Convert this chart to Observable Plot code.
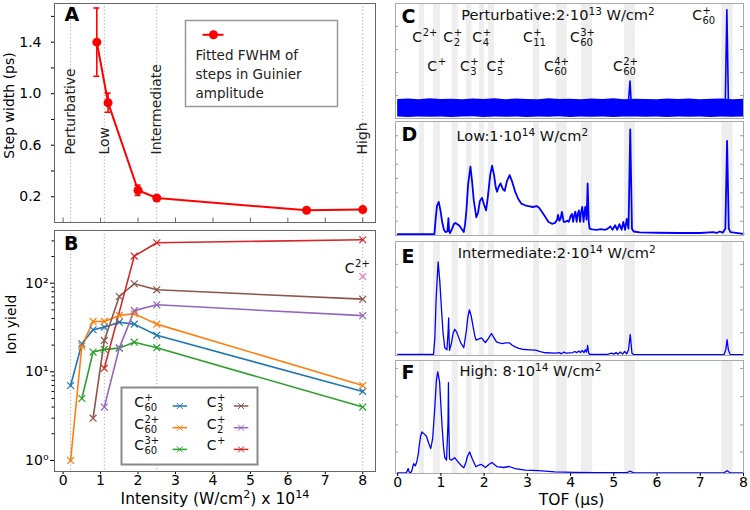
<!DOCTYPE html>
<html>
<head>
<meta charset="utf-8">
<script src="https://cdn.jsdelivr.net/npm/d3@7"></script>
<script src="https://cdn.jsdelivr.net/npm/@observablehq/plot@0.6"></script>
<style>
  html, body { margin: 0; padding: 0; background: #fff; }
  #fig { position: relative; width: 750px; height: 510px; overflow: hidden; font-family: "DejaVu Sans", sans-serif; }
  #fig svg { position: absolute; overflow: visible; }
</style>
</head>
<body>
<div id="fig"></div>
<script>
// ---------------- data ----------------
// A: fitted FWHM of the steps in the Guinier amplitude (ps) vs intensity (x 1e14 W/cm²)
const stepIntensity = [0.9, 1.2, 2.0, 2.5, 6.5, 8.0];
const stepWidth     = [1.40, 0.93, 0.25, 0.19, 0.095, 0.10];
const stepError     = [0.265, 0.074, 0.04, 0, 0, 0];
const stepTicks      = [0.2, 0.4, 0.6, 0.8, 1.0, 1.2, 1.4, 1.6];
const stepTickLabels = ["0.2", "", "0.6", "", "1.0", "", "1.4", ""];
const stepLegendText = "Fitted FWHM of\nsteps in Guinier\namplitude";

// intensity regimes marked in A and B
const regimeIntensity = [0.2, 1.1, 2.5, 8.0];
const regimeNames = ["Perturbative", "Low", "Intermediate", "High"];
const intensityTicks = [0, 1, 2, 3, 4, 5, 6, 7, 8];

// B: ion yields vs intensity
const yieldIntensity = [0.2, 0.5, 0.8, 1.1, 1.5, 1.9, 2.5, 8.0];
const yieldC60p  = [7.0, 20.7, 29.8, 31.9, 36.3, 34.5, 25.8, 6.0];
const yieldC602p = [1.0, 19.5, 37, 37, 43.3, 45.2, 34.5, 7.0];
const yieldC603p = [null, 5.0, 16.7, 17.9, 18.5, 21.6, 18.7, 4.0];
const yieldC3p   = [null, null, 3.0, 22.6, 70.8, 98.5, 84.2, 66];
const yieldC2p   = [null, null, null, 4.0, 18.6, 49, 57, 43];
const yieldCp    = [null, null, null, 11, null, 202, 286, 309];
const c2plusIntensity = [8.0];
const c2plusYield = [119];

const ionSeries = ["C60+", "C60 2+", "C60 3+", "C3+", "C2+", "C+"];
const ionSup    = ["+", "2+", "3+", "+", "+", "+"];
const ionSub    = ["60", "60", "60", "3", "2", ""];
const ionColors = ["#1f77b4", "#ff7f0e", "#2ca02c", "#8c564b", "#9467bd", "#d62728"];
const ionYields = [yieldC60p, yieldC602p, yieldC603p, yieldC3p, yieldC2p, yieldCp];

const yieldTicks = [1, 10, 100];
const yieldTickLabels = ["10⁰", "10¹", "10²"];
const yieldMinorTicks = [2, 3, 4, 5, 6, 7, 8, 9, 20, 30, 40, 50, 60, 70, 80, 90, 200, 300];

// C–F: time-of-flight spectra (normalised signal), TOF in µs
const tofTicks = [0, 1, 2, 3, 4, 5, 6, 7, 8];
const bandStart = [0.50, 0.83, 1.26, 1.59, 1.89, 2.10, 3.14, 3.67, 4.25, 5.25, 7.50];
const bandEnd   = [0.62, 0.99, 1.40, 1.72, 2.01, 2.24, 3.28, 3.92, 4.51, 5.50, 7.76];

// peak labels in C
const peakSup = ["2+", "+", "+", "+", "3+", "+", "+", "+", "4+", "2+", "+"];
const peakSub = ["", "2", "4", "11", "60", "", "3", "5", "60", "60", "60"];
const peakTof = [0.566, 1.283, 1.954, 3.124, 4.21, 0.913, 1.667, 2.284, 3.61, 5.205, 7.04];
const peakRow = [1, 1, 1, 1, 1, 2, 2, 2, 2, 2, 0];
const rowLevel = [0.898, 0.70, 0.452];

// C: perturbative regime, noise envelope plus two C60 peaks
const noiseTof  = [0,0.25,0.5,0.75,1,1.25,1.5,1.75,2,2.25,2.5,2.75,3,3.25,3.5,3.75,4,4.25,4.5,4.75,5,5.25,5.5,5.75,6,6.25,6.5,6.75,7,7.25,7.5,7.75,8];
const noiseHigh = [0.166,0.169,0.163,0.171,0.165,0.168,0.162,0.17,0.166,0.172,0.164,0.169,0.166,0.163,0.171,0.165,0.168,0.163,0.17,0.166,0.172,0.164,0.168,0.165,0.162,0.17,0.166,0.169,0.164,0.167,0.17,0.163,0.168];
const noiseLow  = [0.012,0.009,0.014,0.01,0.013,0.008,0.012,0.015,0.009,0.013,0.01,0.014,0.009,0.012,0.011,0.015,0.009,0.013,0.01,0.014,0.009,0.012,0.014,0.01,0.012,0.009,0.013,0.01,0.013,0.009,0.014,0.011,0.012];
const specCPeaks = [
  [[5.34, 0.15], [5.375, 0.325], [5.40, 0.15]],
  [[7.58, 0.16], [7.615, 0.945], [7.65, 0.16]]
];

// D: low intensity
const specD = [
  [0.00,0.012],[0.85,0.012],[0.88,0.15],[0.91,0.26],[0.95,0.295],[0.99,0.22],[1.03,0.118],[1.07,0.05],
  [1.105,0.03],[1.15,0.035],[1.175,0.153],[1.19,0.04],[1.21,0.02],[1.26,0.06],[1.30,0.10],[1.336,0.11],
  [1.40,0.095],[1.45,0.075],[1.53,0.03],[1.56,0.10],[1.59,0.22],[1.63,0.45],[1.683,0.605],[1.72,0.48],
  [1.76,0.31],[1.82,0.16],[1.86,0.20],[1.90,0.30],[1.95,0.33],[2.00,0.27],[2.046,0.22],[2.09,0.35],
  [2.14,0.53],[2.185,0.613],[2.23,0.53],[2.27,0.42],[2.30,0.383],[2.34,0.43],[2.38,0.457],[2.43,0.41],
  [2.477,0.392],[2.53,0.48],[2.59,0.53],[2.65,0.47],[2.72,0.383],[2.79,0.32],[2.86,0.28],[2.95,0.265],
  [3.03,0.257],[3.12,0.25],[3.225,0.257],[3.28,0.24],[3.34,0.206],[3.42,0.16],[3.49,0.118],[3.57,0.103],
  [3.64,0.11],[3.69,0.14],[3.71,0.18],[3.74,0.13],[3.77,0.15],[3.80,0.206],[3.84,0.12],[3.88,0.12],
  [3.92,0.13],[3.96,0.12],[4.00,0.17],[4.03,0.19],[4.06,0.12],[4.08,0.17],[4.11,0.21],[4.14,0.12],
  [4.16,0.18],[4.19,0.22],[4.22,0.12],[4.24,0.20],[4.27,0.25],[4.30,0.12],[4.32,0.20],[4.34,0.25],
  [4.37,0.14],[4.395,0.457],[4.42,0.12],[4.44,0.06],[4.50,0.053],[4.60,0.05],[4.70,0.055],[4.80,0.05],
  [4.86,0.06],[4.92,0.08],[4.97,0.05],[5.03,0.09],[5.08,0.05],[5.13,0.10],[5.18,0.05],[5.22,0.12],
  [5.26,0.05],[5.30,0.145],[5.34,0.06],[5.38,0.93],[5.42,0.06],[5.46,0.035],[5.60,0.028],[6.00,0.024],
  [6.50,0.022],[7.00,0.022],[7.30,0.03],[7.38,0.022],[7.45,0.035],[7.52,0.025],[7.58,0.06],[7.62,0.83],
  [7.66,0.06],[7.70,0.03],[8.00,0.015]
];

// E: intermediate intensity
const specE = [
  [0,0.01],[0.83,0.01],[0.86,0.15],[0.89,0.5],[0.936,0.82],[0.975,0.65],[1.013,0.41],[1.05,0.2],
  [1.09,0.068],[1.14,0.05],[1.165,0.2],[1.18,0.33],[1.19,0.15],[1.20,0.045],[1.245,0.11],[1.28,0.19],
  [1.32,0.23],[1.36,0.21],[1.40,0.17],[1.46,0.11],[1.53,0.068],[1.59,0.22],[1.625,0.34],[1.66,0.40],
  [1.70,0.35],[1.737,0.27],[1.78,0.18],[1.815,0.135],[1.88,0.145],[1.94,0.155],[1.99,0.13],[2.03,0.114],
  [2.10,0.15],[2.17,0.193],[2.23,0.155],[2.285,0.12],[2.35,0.11],[2.42,0.105],[2.50,0.11],[2.59,0.11],
  [2.65,0.09],[2.72,0.076],[2.80,0.063],[2.88,0.055],[3.05,0.05],[3.19,0.047],[3.30,0.035],[3.42,0.024],
  [3.65,0.02],[3.75,0.025],[3.78,0.015],[3.85,0.03],[3.90,0.02],[4.05,0.025],[4.10,0.035],[4.14,0.025],
  [4.19,0.04],[4.23,0.025],[4.27,0.045],[4.31,0.025],[4.34,0.05],[4.37,0.03],[4.395,0.088],[4.42,0.02],
  [4.45,0.009],[4.85,0.01],[4.95,0.02],[5.00,0.012],[5.05,0.025],[5.10,0.012],[5.15,0.03],[5.20,0.012],
  [5.25,0.035],[5.30,0.015],[5.34,0.05],[5.38,0.184],[5.42,0.02],[5.46,0.008],[7.55,0.008],[7.59,0.05],
  [7.62,0.138],[7.65,0.05],[7.69,0.01],[8,0.008]
];

// F: high intensity
const specF = [
  [0,0.005],[0.20,0.007],[0.23,0.03],[0.243,0.044],[0.26,0.02],[0.28,0.008],[0.32,0.015],[0.35,0.06],
  [0.37,0.088],[0.39,0.075],[0.41,0.068],[0.43,0.09],[0.45,0.118],[0.48,0.18],[0.50,0.25],[0.53,0.33],
  [0.56,0.368],[0.60,0.355],[0.666,0.33],[0.72,0.265],[0.765,0.22],[0.81,0.31],[0.858,0.575],[0.895,0.82],
  [0.927,0.90],[0.97,0.81],[1.00,0.60],[1.03,0.40],[1.06,0.24],[1.09,0.14],[1.13,0.118],[1.165,0.45],
  [1.175,0.805],[1.185,0.40],[1.20,0.13],[1.24,0.118],[1.32,0.14],[1.41,0.097],[1.47,0.07],[1.53,0.05],
  [1.58,0.10],[1.61,0.148],[1.665,0.19],[1.73,0.127],[1.81,0.06],[1.88,0.075],[1.94,0.08],[2.03,0.053],
  [2.11,0.08],[2.18,0.097],[2.30,0.06],[2.45,0.053],[2.58,0.062],[2.72,0.044],[2.95,0.03],[3.26,0.026],
  [3.64,0.015],[4.10,0.01],[4.60,0.008],[5.30,0.008],[5.38,0.02],[5.45,0.008],[7.55,0.006],[7.62,0.025],
  [7.69,0.006],[8,0.005]
];

// ^{...} marks a superscript
const panelTitles = ["Perturbative:2·10^{13} W/cm^{2}", "Low:1·10^{14} W/cm^{2}", "Intermediate:2·10^{14} W/cm^{2}", "High: 8·10^{14} W/cm^{2}"];
const intensityLabel = "Intensity (W/cm^{2}) x 10^{14}";

// ---------------- drawing ----------------
const fig = document.getElementById("fig");
const SVGNS = "http://www.w3.org/2000/svg";
const baseStyle = {fontFamily: "'DejaVu Sans', sans-serif", fontSize: "14px", background: "transparent", overflow: "visible", color: "#000"};

// turn ^{...} runs inside rendered text into raised, smaller tspans
function raiseSuperscripts(svg) {
  svg.querySelectorAll("text").forEach(t => {
    const s = t.textContent;
    if (!s.includes("^{")) return;
    let el = t, fs = NaN;
    while (el && isNaN(fs)) { fs = parseFloat(el.getAttribute && el.getAttribute("font-size")); el = el.parentElement; }
    if (isNaN(fs)) fs = 14;
    const shift = fs * 0.38;
    const parts = s.split(/(\^\{[^}]*\})/).filter(p => p.length);
    t.textContent = "";
    let raised = false;
    for (const p of parts) {
      const ts = document.createElementNS(SVGNS, "tspan");
      if (p.startsWith("^{")) {
        ts.textContent = p.slice(2, -1);
        ts.setAttribute("font-size", (fs * 0.72).toFixed(1));
        ts.setAttribute("dy", (-shift).toFixed(1));
        raised = true;
      } else {
        ts.textContent = p;
        if (raised) { ts.setAttribute("dy", shift.toFixed(1)); raised = false; }
      }
      t.appendChild(ts);
    }
  });
}

function place(svg, left, top) {
  svg.style.left = left + "px";
  svg.style.top = top + "px";
  fig.appendChild(svg);
  raiseSuperscripts(svg);
}

// "C" with a stacked charge superscript and size subscript
function ionLabel(data, {x, y, size = 14, small = 10}) {
  return [
    Plot.text(data, {x, y, text: () => "C", textAnchor: "end", lineAnchor: "middle", fontSize: size, fill: "#111"}),
    Plot.text(data, {x, y, text: "sup", textAnchor: "start", lineAnchor: "middle", fontSize: small, dx: 0.5, dy: -4.8, fill: "#111"}),
    Plot.text(data, {x, y, text: "sub", textAnchor: "start", lineAnchor: "middle", fontSize: small, dx: 0.5, dy: 5.2, fill: "#111"})
  ];
}

const intensityDomain = [-0.23, 8.34];
const dotted = {stroke: "#aaaaaa", strokeDasharray: "1.2,2.2", strokeWidth: 1};
const pixelScale = {type: "identity", axis: null};

// ----- A -----
const stepRows = stepIntensity.map((x, i) => ({x, y: stepWidth[i], e: stepError[i]}));
const errRows = stepRows.filter(d => d.e > 0);
const capHalf = 0.08;
place(Plot.plot({
  width: 380, height: 225, marginLeft: 54, marginRight: 5, marginTop: 3, marginBottom: 3,
  style: baseStyle,
  x: {domain: intensityDomain, axis: null},
  y: {domain: [0, 1.7]},
  marks: [
    Plot.ruleX(regimeIntensity, dotted),
    Plot.text(regimeNames, {x: (d, i) => regimeIntensity[i], frameAnchor: "bottom", dy: -68, rotate: -90,
      textAnchor: "start", lineAnchor: "middle", fontSize: 14, fill: "#222"}),
    Plot.ruleX(intensityTicks, {y1: 0, y2: 0.035, stroke: "#666"}),
    Plot.ruleX(errRows, {x: "x", y1: d => d.y - d.e, y2: d => d.y + d.e, stroke: "red", strokeWidth: 1.6}),
    Plot.ruleY(errRows, {y: d => d.y + d.e, x1: d => d.x - capHalf, x2: d => d.x + capHalf, stroke: "red", strokeWidth: 1.6}),
    Plot.ruleY(errRows, {y: d => d.y - d.e, x1: d => d.x - capHalf, x2: d => d.x + capHalf, stroke: "red", strokeWidth: 1.6}),
    Plot.line(stepRows, {x: "x", y: "y", stroke: "red", strokeWidth: 2}),
    Plot.dot(stepRows, {x: "x", y: "y", fill: "red", r: 4.5}),
    Plot.axisY({ticks: stepTicks, tickFormat: d => stepTickLabels[stepTicks.indexOf(d)], tickSize: 3, tickPadding: 10, fontSize: 14, label: null}),
    Plot.frame({stroke: "#666"}),
    Plot.text(["A"], {frameAnchor: "top-left", dx: 10, dy: 11, lineAnchor: "middle", fontWeight: "bold", fontSize: 19}),
    Plot.text(["Step width (ps)"], {frameAnchor: "left", dx: -45, dy: -7.5, rotate: -90, textAnchor: "middle", lineAnchor: "middle", fontSize: 14})
  ]
}), 0, 0);

// legend of A
place(Plot.plot({
  width: 152, height: 86, margin: 0, style: baseStyle,
  x: pixelScale, y: pixelScale,
  marks: [
    Plot.frame({stroke: "#999", strokeWidth: 1.5, fill: "white"}),
    Plot.link([0], {x1: 17, x2: 38, y1: 14.3, y2: 14.3, stroke: "red", strokeWidth: 2}),
    Plot.dot([0], {x: 28, y: 14.3, fill: "red", r: 4.5}),
    Plot.text([stepLegendText], {x: 10, y: 52.5, textAnchor: "start", lineAnchor: "middle", lineHeight: 1.4, fontSize: 13.5, fill: "#222"})
  ]
}), 185, 20);

// ----- B -----
const yieldRows = ionSeries.flatMap((s, i) =>
  yieldIntensity.map((x, j) => ({series: s, x, y: ionYields[i][j]})).filter(d => d.y != null));
place(Plot.plot({
  width: 380, height: 285, marginLeft: 54, marginRight: 5, marginTop: 5, marginBottom: 39,
  style: baseStyle,
  x: {domain: intensityDomain},
  y: {type: "log", domain: [0.75, 393]},
  color: {domain: ionSeries, range: ionColors},
  marks: [
    Plot.ruleX(regimeIntensity, dotted),
    Plot.line(yieldRows, {x: "x", y: "y", z: "series", stroke: "series", strokeWidth: 1.6}),
    Plot.dot(yieldRows, {x: "x", y: "y", stroke: "series", symbol: "times", r: 3.2, strokeWidth: 1.2}),
    Plot.dot(c2plusIntensity, {x: d => d, y: (d, i) => c2plusYield[i], stroke: "#e377c2", symbol: "times", r: 3.2, strokeWidth: 1.2}),
    ...ionLabel([{sup: "2+", sub: ""}], {x: () => 7.78, y: () => 145}),
    Plot.axisX({ticks: intensityTicks, tickSize: 3, tickPadding: 1, fontSize: 14, label: null}),
    Plot.axisY({ticks: yieldTicks, tickFormat: d => yieldTickLabels[yieldTicks.indexOf(d)], tickSize: 4, tickPadding: 2, fontSize: 14, label: null}),
    Plot.axisY({ticks: yieldMinorTicks, tickFormat: () => "", tickSize: 2.5, label: null}),
    Plot.frame({stroke: "#666"}),
    Plot.text(["B"], {frameAnchor: "top-left", dx: 9.5, dy: 13.5, lineAnchor: "middle", fontWeight: "bold", fontSize: 19}),
    Plot.text(["Ion yield"], {frameAnchor: "left", dx: -42.5, dy: -26.5, rotate: -90, textAnchor: "middle", lineAnchor: "middle", fontSize: 14}),
    Plot.text([intensityLabel], {frameAnchor: "bottom", dy: 27.5, textAnchor: "middle", lineAnchor: "middle", fontSize: 15.5})
  ]
}), 0, 225);

// legend of B
const legendTextX = [22.5, 95];
const legendSwatchX = [51, 112.3];
const legendRows = ionSeries.map((s, i) => {
  const col = Math.floor(i / 3), row = i % 3;
  return {series: s, sup: ionSup[i], sub: ionSub[i],
    tx: legendTextX[col], ty: 15 + row * 21.7,
    sx1: legendSwatchX[col], sx2: legendSwatchX[col] + 14.5, sy: 18.5 + row * 21.7};
});
place(Plot.plot({
  width: 136, height: 77, margin: 0, style: baseStyle,
  x: pixelScale, y: pixelScale,
  color: {domain: ionSeries, range: ionColors},
  marks: [
    Plot.frame({stroke: "#8a8a8a", strokeWidth: 2, fill: "white"}),
    ...ionLabel(legendRows, {x: "tx", y: "ty"}),
    Plot.link(legendRows, {x1: "sx1", x2: "sx2", y1: "sy", y2: "sy", stroke: "series", strokeWidth: 1.5}),
    Plot.dot(legendRows, {x: d => (d.sx1 + d.sx2) / 2, y: "sy", stroke: "series", symbol: "times", r: 2.8, strokeWidth: 1})
  ]
}), 121, 386.5);

// ----- C–F -----
const bandRows = bandStart.map((s, i) => ({x1: s, x2: bandEnd[i]}));
function spectrumPanel({top, height, marks, yTicks, title, titleDx, titleDy, letter, letterDy, withAxis = false}) {
  const marginBottom = withAxis ? 37 : 1;
  const svg = Plot.plot({
    width: 370, height: height + 1 + marginBottom,
    marginLeft: 15, marginRight: 7, marginTop: 1, marginBottom,
    style: baseStyle,
    x: withAxis ? {domain: [-0.05, 8]} : {domain: [-0.05, 8], axis: null},
    y: {domain: [0, 1], axis: null},
    marks: [
      Plot.rect(bandRows, {x1: "x1", x2: "x2", fill: "#eeeeee"}),
      ...marks,
      Plot.ruleY(yTicks, {x1: -0.05, x2: 0.02, stroke: "#999"}),
      Plot.ruleY(yTicks, {x1: 7.93, x2: 8, stroke: "#999"}),
      Plot.frame({stroke: "#aaa"}),
      Plot.text([letter], {frameAnchor: "top-left", dx: 6, dy: letterDy, lineAnchor: "middle", fontWeight: "bold", fontSize: 19}),
      Plot.text([title], {frameAnchor: "top-left", dx: titleDx, dy: titleDy, textAnchor: "start", lineAnchor: "middle", fontSize: 14.6, fill: "#111"}),
      ...(withAxis ? [
        Plot.axisX({ticks: tofTicks, tickSize: 3, tickPadding: 1, fontSize: 14, label: null}),
        Plot.text(["TOF (μs)"], {frameAnchor: "bottom", dx: 2, dy: 26.5, textAnchor: "middle", lineAnchor: "middle", fontSize: 15.5})
      ] : [])
    ]
  });
  place(svg, 380, top - 1);
}

const blue = "#0000ff";
const noiseRows = noiseTof.map((t, i) => ({t, lo: noiseLow[i], hi: noiseHigh[i]}));
const cPeakRows = specCPeaks.flatMap((pk, k) => pk.map(([t, v]) => ({k, t, v})));
const peakLabelRows = peakTof.map((t, i) => ({t, v: rowLevel[peakRow[i]], sup: peakSup[i], sub: peakSub[i]}));

spectrumPanel({
  top: 3, height: 115, yTicks: [0.2, 0.4, 0.6, 0.8],
  title: panelTitles[0], titleDx: 65.7, titleDy: 12, letter: "C", letterDy: 13.5,
  marks: [
    Plot.areaY(noiseRows, {x: "t", y1: "lo", y2: "hi", fill: blue}),
    Plot.line(cPeakRows, {x: "t", y: "v", z: "k", stroke: blue, strokeWidth: 1.6}),
    ...ionLabel(peakLabelRows, {x: "t", y: "v"})
  ]
});
spectrumPanel({
  top: 121, height: 114, yTicks: [0.125, 0.25, 0.375, 0.5, 0.625, 0.75, 0.875],
  title: panelTitles[1], titleDx: 61, titleDy: 15, letter: "D", letterDy: 13,
  marks: [Plot.line(specD, {x: d => d[0], y: d => d[1], stroke: blue, strokeWidth: 1.8, strokeLinejoin: "round"})]
});
spectrumPanel({
  top: 241, height: 114, yTicks: [0.2, 0.4, 0.6, 0.8],
  title: panelTitles[2], titleDx: 62.3, titleDy: 12, letter: "E", letterDy: 15,
  marks: [Plot.line(specE, {x: d => d[0], y: d => d[1], stroke: blue, strokeWidth: 1.3, strokeLinejoin: "round"})]
});
spectrumPanel({
  top: 360, height: 113, yTicks: [0.19, 0.43, 0.68, 0.93], withAxis: true,
  title: panelTitles[3], titleDx: 64, titleDy: 11, letter: "F", letterDy: 12.5,
  marks: [Plot.line(specF, {x: d => d[0], y: d => d[1], stroke: blue, strokeWidth: 1.3, strokeLinejoin: "round"})]
});
</script>
</body>
</html>
